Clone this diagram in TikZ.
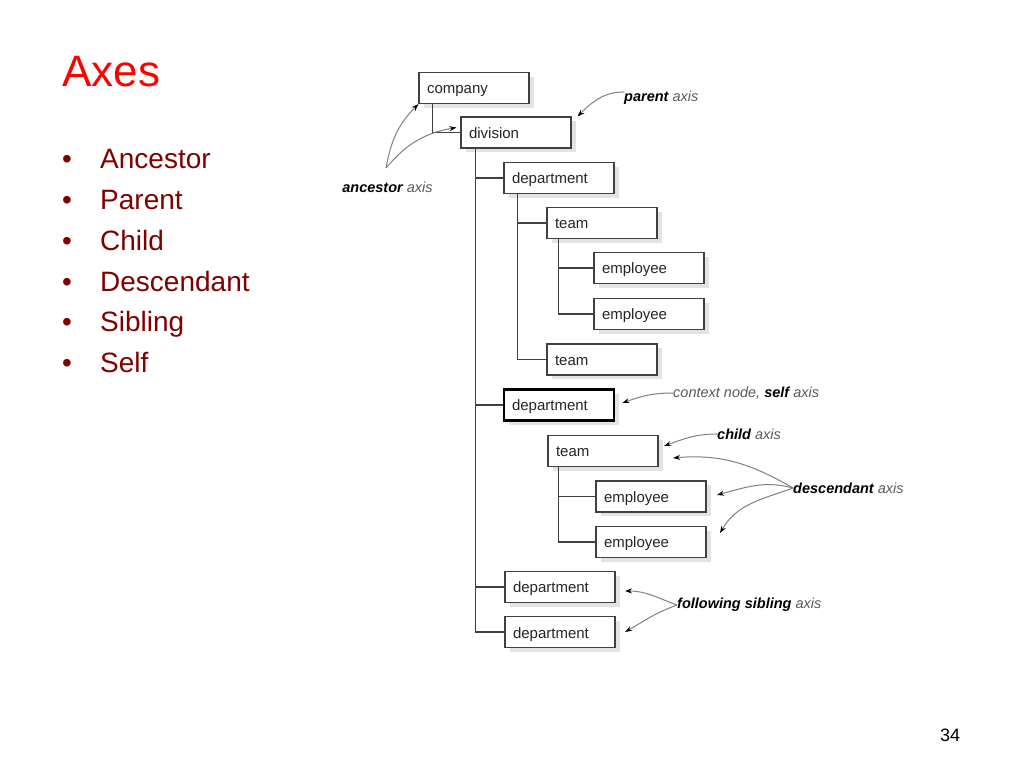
\documentclass[tikz,border=0pt]{standalone}
\usepackage{fontspec}
\setmainfont{Liberation Sans}
\usetikzlibrary{arrows.meta,shadows}
\definecolor{titlered}{RGB}{255,0,0}
\definecolor{itemred}{RGB}{128,0,0}
\tikzset{
  box/.style={draw=black!75, line width=1.1pt, fill=white, text=black!85,
    font=\fontsize{15}{18}\selectfont, text width=94pt, align=left,
    inner xsep=8pt, inner ysep=0pt, text height=13pt, text depth=1pt,
    minimum height=31pt,
    drop shadow={shadow xshift=4.5pt, shadow yshift=-4.5pt, fill=black!22}},
  ctxbox/.style={box, draw=black, line width=2.8pt},
  lbl/.style={font=\itshape\fontsize{14.5}{17}\selectfont, text=black!65, inner sep=0pt},
  conn/.style={draw=black!75, line width=1.3pt},
  axarrow/.style={draw=black!50, line width=1pt, -{Stealth[length=7pt,width=5pt,color=black]}},
  item/.style={anchor=base west, inner sep=0pt, text=itemred, font=\fontsize{28}{32}\selectfont}
}

\begin{document}
\begin{tikzpicture}[x=1pt, y=1pt]
\useasboundingbox (0,0) rectangle (1024,768);
% slide text
\node[anchor=base west, inner sep=0pt, text=titlered, font=\fontsize{44}{50}\selectfont] (title) at (62,681) {Axes};
\node[item] (dot1) at (62,599) {•};
\node[item] (dot2) at (62,558) {•};
\node[item] (dot3) at (62,517) {•};
\node[item] (dot4) at (62,476) {•};
\node[item] (dot5) at (62,436) {•};
\node[item] (dot6) at (62,395) {•};
\node[item] (ancestor) at (100,599) {Ancestor};
\node[item] (parent) at (100,558) {Parent};
\node[item] (child) at (100,517) {Child};
\node[item] (descendant) at (100,476) {Descendant};
\node[item] (sibling) at (100,436) {Sibling};
\node[item] (self) at (100,395) {Self};
\node[anchor=base west, inner sep=0pt, font=\fontsize{18}{20}\selectfont] (pagenum) at (940,27) {34};
% tree
\node[box] (company) at (474,680) {company};
\node[box] (division) at (516,635.5) {division};
\node[box] (dep1) at (559,590) {department};
\node[box] (team1) at (602,545) {team};
\node[box] (emp1) at (649,500) {employee};
\node[box] (emp2) at (649,454) {employee};
\node[box] (team2) at (602,408.5) {team};
\node[ctxbox] (ctx) at (559,363) {department};
\node[box] (team3) at (603,317) {team};
\node[box] (emp3) at (651,271.5) {employee};
\node[box] (emp4) at (651,226) {employee};
\node[box] (dep3) at (560,181) {department};
\node[box] (dep4) at (560,136) {department};
\draw[conn] ([xshift=14pt]company.south west) |- (division.west);
\draw[conn] ([xshift=15pt]division.south west) |- (dep1.west);
\draw[conn] ([xshift=15pt]division.south west) |- (ctx.west);
\draw[conn] ([xshift=15pt]division.south west) |- (dep3.west);
\draw[conn] ([xshift=15pt]division.south west) |- (dep4.west);
\draw[conn] ([xshift=14pt]dep1.south west) |- (team1.west);
\draw[conn] ([xshift=14pt]dep1.south west) |- (team2.west);
\draw[conn] ([xshift=12pt]team1.south west) |- (emp1.west);
\draw[conn] ([xshift=12pt]team1.south west) |- (emp2.west);
\draw[conn] ([xshift=11pt]team3.south west) |- (emp3.west);
\draw[conn] ([xshift=11pt]team3.south west) |- (emp4.west);
% axis labels
\node[lbl, anchor=west] (parentlbl) at (624,670) {\textcolor{black}{\bfseries parent} axis};
\node[lbl] (ancestorlbl) at (387.5,581) {\textcolor{black}{\bfseries ancestor} axis};
\node[lbl, anchor=west] (selflbl) at (673,375) {context node, \textcolor{black}{\bfseries self} axis};
\node[lbl, anchor=west] (childlbl) at (717,334) {\textcolor{black}{\bfseries child} axis};
\node[lbl, anchor=west] (desclbl) at (793,280) {\textcolor{black}{\bfseries descendant} axis};
\node[lbl, anchor=west] (siblbl) at (677,163) {\textcolor{black}{\bfseries following sibling} axis};
\coordinate (ancfork) at (386,600);
\draw[axarrow] ([yshift=6pt]parentlbl.west) to[out=180, in=45] ([xshift=6pt]division.north east);
\draw[axarrow] (ancfork) to[out=80, in=225] (company.south west);
\draw[axarrow] (ancfork) to[out=50, in=190] ([shift={(-4pt,5pt)}]division.west);
\draw[axarrow] (selflbl.west) to[out=180, in=20] ([shift={(7pt,2pt)}]ctx.east);
\draw[axarrow] (childlbl.west) to[out=180, in=20] ([shift={(5.5pt,5pt)}]team3.east);
\draw[axarrow] (desclbl.west) to[out=150, in=5] ([shift={(14.5pt,-7pt)}]team3.east);
\draw[axarrow] (desclbl.west) to[out=165, in=15] ([shift={(10.5pt,1.5pt)}]emp3.east);
\draw[axarrow] (desclbl.west) to[out=200, in=60] ([shift={(13.5pt,9pt)}]emp4.east);
\draw[axarrow] (siblbl.west) to[out=160, in=0] ([shift={(9.5pt,-4pt)}]dep3.east);
\draw[axarrow] (siblbl.west) to[out=200, in=30] ([shift={(9.5pt,0pt)}]dep4.east);
\end{tikzpicture}
\end{document}
